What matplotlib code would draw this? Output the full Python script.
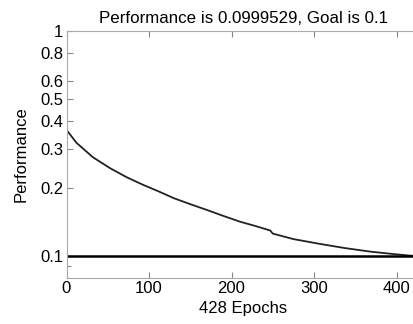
import matplotlib
matplotlib.use('Agg')
import matplotlib.pyplot as plt
from matplotlib.ticker import FixedLocator, NullFormatter

plt.rcParams['font.family'] = ['Liberation Sans', 'DejaVu Sans']

# training performance
EPOCHS = [0, 12, 32, 53, 73, 93, 113, 130, 150, 170, 190, 210, 230, 247, 250,
          275, 307, 337, 368, 395, 416, 428]
PERF = [0.364, 0.319, 0.275, 0.2457, 0.2241, 0.2073, 0.193, 0.181, 0.1702,
        0.1605, 0.151, 0.1424, 0.1358, 0.130, 0.126, 0.1191, 0.1134,
        0.1087, 0.1048, 0.1023, 0.1006, 0.0999529]
GOAL = 0.1
N_EPOCHS = 428
Y_TICKS = [0.1, 0.2, 0.3, 0.4, 0.5, 0.6, 0.8, 1]
Y_TICK_LABELS = ['0.1', '0.2', '0.3', '0.4', '0.5', '0.6', '0.8', '1']
X_TICKS = [0, 100, 200, 300, 400]

fig = plt.figure(figsize=(4.13, 3.24), dpi=100)
ax = fig.add_axes([66.5 / 413, 1 - 278 / 324, (419.6 - 66.5) / 413, (278 - 31) / 324])

ax.plot(EPOCHS, PERF, color='#222222', lw=1.3)
ax.plot([0, N_EPOCHS], [GOAL, GOAL], color='black', lw=1.8)

ax.set_yscale('log')
ax.set_xlim(0, N_EPOCHS)
ax.set_ylim(0.08, 1)
ax.yaxis.set_major_locator(FixedLocator(Y_TICKS))
ax.set_yticklabels(Y_TICK_LABELS)
ax.yaxis.set_minor_locator(FixedLocator([0.09]))
ax.yaxis.set_minor_formatter(NullFormatter())
ax.set_xticks(X_TICKS)

for s in ['left', 'bottom', 'top']:
    ax.spines[s].set_color('#aaaaaa')
    ax.spines[s].set_linewidth(0.8)
ax.spines['right'].set_visible(False)
ax.tick_params(axis='both', which='both', direction='in', color='#888888',
               labelsize=12, length=4, width=0.8, top=True, pad=2.5)
ax.tick_params(axis='both', which='minor', length=3)

ax.set_title('Performance is 0.0999529, Goal is 0.1', fontsize=12.2, pad=6)
ax.set_xlabel('428 Epochs', fontsize=12, labelpad=3)
ax.set_ylabel('Performance', fontsize=12, labelpad=8)

fig.savefig('out.png', dpi=100)
